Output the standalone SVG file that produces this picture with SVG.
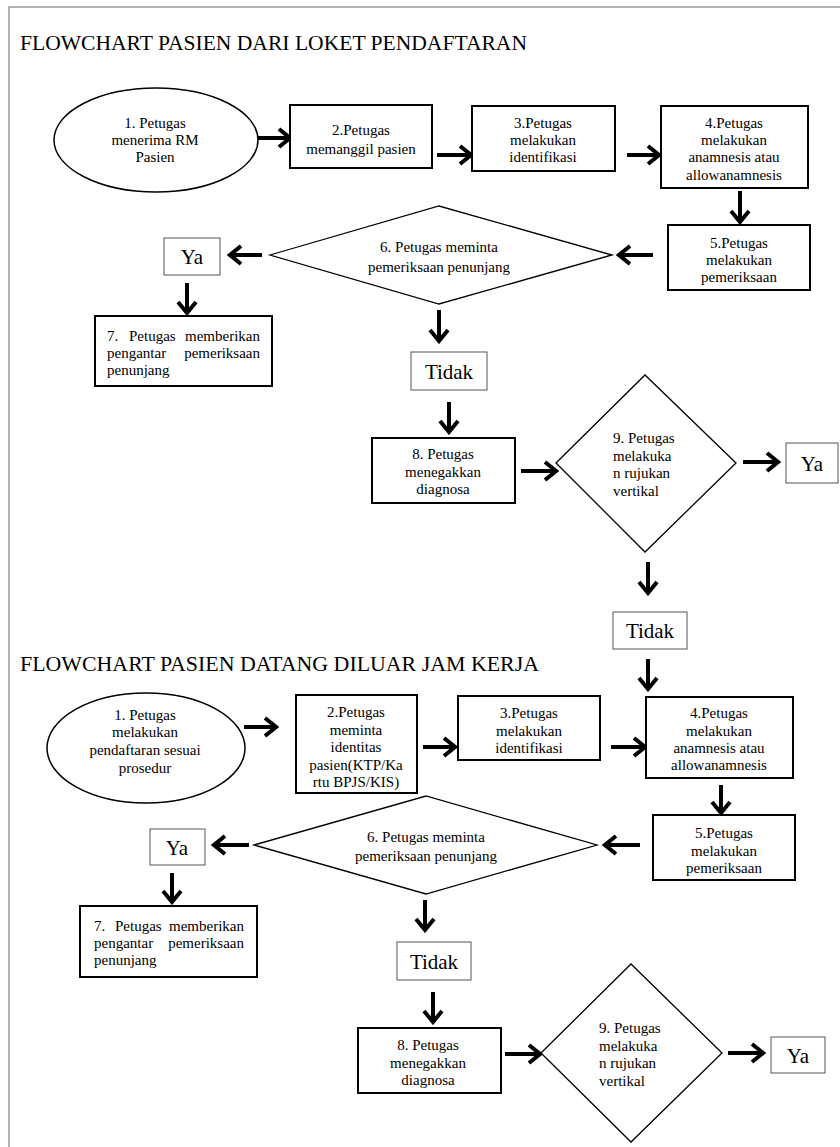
<svg xmlns="http://www.w3.org/2000/svg" width="840" height="1147" viewBox="0 0 840 1147" font-family="'Liberation Serif', 'Times New Roman', Tinos, 'DejaVu Serif', serif">
<style>
text{font-family:'Liberation Serif','Times New Roman',Tinos,'DejaVu Serif',serif;fill:#000}
.t{font-size:15px;text-anchor:middle}
.l{font-size:15px}
.r{font-size:15px;text-anchor:end}
.big{font-size:21px;text-anchor:middle}
.title{font-size:21px}
.proc{fill:#fff;stroke:#000;stroke-width:2}
.term{fill:#fff;stroke:#000;stroke-width:1.5}
.dec{fill:#fff;stroke:#000;stroke-width:1.3}
.lab{fill:#fff;stroke:#555;stroke-width:1}
.arr{stroke:#000;stroke-width:4;fill:none;marker-end:url(#ah)}
</style>
<defs>
<marker id="ah" markerUnits="userSpaceOnUse" viewBox="0 0 16 22" markerWidth="16" markerHeight="22" refX="13" refY="11" orient="auto">
<path d="M2 2 L13 11 L2 20" fill="none" stroke="#000" stroke-width="4"/>
</marker>
</defs>
<rect width="840" height="1147" fill="#fff"/>
<path d="M9 1147 V7 H840" fill="none" stroke="#999" stroke-width="1.5"/>

<text class="title" x="20" y="50" textLength="507" lengthAdjust="spacingAndGlyphs">FLOWCHART PASIEN DARI LOKET PENDAFTARAN</text>

<g id="connectors">
<line class="arr" x1="258" y1="138" x2="290" y2="138"/>
<line class="arr" x1="437" y1="155" x2="471" y2="155"/>
<line class="arr" x1="627" y1="155" x2="659" y2="155"/>
<line class="arr" x1="740" y1="191" x2="740" y2="222"/>
<line class="arr" x1="653" y1="255" x2="619" y2="255"/>
<line class="arr" x1="262" y1="255" x2="230" y2="255"/>
<line class="arr" x1="187" y1="283" x2="187" y2="313"/>
<line class="arr" x1="439" y1="310" x2="439" y2="341"/>
<line class="arr" x1="449" y1="402" x2="449" y2="432"/>
<line class="arr" x1="521" y1="471" x2="556" y2="471"/>
<line class="arr" x1="743" y1="462" x2="778" y2="462"/>
<line class="arr" x1="648" y1="562" x2="648" y2="593"/>
<line class="arr" x1="648" y1="659" x2="648" y2="689"/>
<line class="arr" x1="244" y1="727" x2="276" y2="727"/>
<line class="arr" x1="423" y1="747" x2="455" y2="747"/>
<line class="arr" x1="611" y1="747" x2="645" y2="747"/>
<line class="arr" x1="721" y1="785" x2="721" y2="813"/>
<line class="arr" x1="640" y1="845" x2="605" y2="845"/>
<line class="arr" x1="249" y1="845" x2="214" y2="845"/>
<line class="arr" x1="172" y1="873" x2="172" y2="902"/>
<line class="arr" x1="425" y1="900" x2="425" y2="930"/>
<line class="arr" x1="433" y1="992" x2="433" y2="1022"/>
<line class="arr" x1="505" y1="1054" x2="540" y2="1054"/>
<line class="arr" x1="728" y1="1053" x2="763" y2="1053"/>
</g>

<g id="n1">
<ellipse class="term" cx="156" cy="140" rx="102" ry="52"/>
<text class="t" x="155" y="128">1. Petugas</text>
<text class="t" x="155" y="145">menerima RM</text>
<text class="t" x="155" y="162">Pasien</text>
</g>
<g id="n2">
<rect class="proc" x="290" y="105" width="142" height="63"/>
<text class="t" x="361" y="135">2.Petugas</text>
<text class="t" x="361" y="154">memanggil pasien</text>
</g>
<g id="n3">
<rect class="proc" x="472" y="106" width="143" height="65"/>
<text class="t" x="543" y="128">3.Petugas</text>
<text class="t" x="543" y="145">melakukan</text>
<text class="t" x="543" y="162">identifikasi</text>
</g>
<g id="n4">
<rect class="proc" x="661" y="106" width="147" height="82"/>
<text class="t" x="734" y="128">4.Petugas</text>
<text class="t" x="734" y="145">melakukan</text>
<text class="t" x="734" y="162">anamnesis atau</text>
<text class="t" x="734" y="180">allowanamnesis</text>
</g>
<g id="n5">
<rect class="proc" x="668" y="225" width="142" height="65"/>
<text class="t" x="739" y="248">5.Petugas</text>
<text class="t" x="739" y="265">melakukan</text>
<text class="t" x="739" y="282">pemeriksaan</text>
</g>
<g id="n6">
<polygon class="dec" points="270,255 439,206 612,255 439,304"/>
<text class="t" x="439" y="252">6. Petugas meminta</text>
<text class="t" x="439" y="272">pemeriksaan penunjang</text>
</g>
<g id="ya1">
<rect class="lab" x="164" y="238" width="56" height="37"/>
<text class="big" x="192" y="264">Ya</text>
</g>
<g id="n7">
<rect class="proc" x="95" y="316" width="177" height="70"/>
<text class="l" x="107" y="341">7.</text>
<text class="l" x="129" y="341">Petugas</text>
<text class="r" x="260" y="341">memberikan</text>
<text class="l" x="107" y="358">pengantar</text>
<text class="r" x="260" y="358">pemeriksaan</text>
<text class="l" x="107" y="375">penunjang</text>
</g>
<g id="tidak1">
<rect class="lab" x="411" y="352" width="76" height="38"/>
<text class="big" x="449" y="379">Tidak</text>
</g>
<g id="n8">
<rect class="proc" x="372" y="438" width="143" height="65"/>
<text class="t" x="443" y="459">8. Petugas</text>
<text class="t" x="443" y="477">menegakkan</text>
<text class="t" x="443" y="494">diagnosa</text>
</g>
<g id="n9">
<polygon class="dec" points="556,463 645,375 736,463 645,552"/>
<text class="l" x="613" y="443">9. Petugas</text>
<text class="l" x="613" y="461">melakuka</text>
<text class="l" x="613" y="478">n rujukan</text>
<text class="l" x="613" y="496">vertikal</text>
</g>
<g id="ya2">
<rect class="lab" x="786" y="443" width="52" height="40"/>
<text class="big" x="812" y="471">Ya</text>
</g>
<g id="tidak2">
<rect class="lab" x="613" y="612" width="74" height="37"/>
<text class="big" x="650" y="638">Tidak</text>
</g>

<text class="title" x="20" y="671" textLength="519" lengthAdjust="spacingAndGlyphs">FLOWCHART PASIEN DATANG DILUAR JAM KERJA</text>

<g id="m1">
<ellipse class="term" cx="146" cy="748" rx="99" ry="55"/>
<text class="t" x="145" y="720">1. Petugas</text>
<text class="t" x="145" y="737">melakukan</text>
<text class="t" x="145" y="755">pendaftaran sesuai</text>
<text class="t" x="145" y="773">prosedur</text>
</g>
<g id="m2">
<rect class="proc" x="296" y="695" width="121" height="98"/>
<text class="t" x="356" y="717">2.Petugas</text>
<text class="t" x="356" y="735">meminta</text>
<text class="t" x="356" y="752">identitas</text>
<text class="t" x="356" y="770">pasien(KTP/Ka</text>
<text class="t" x="356" y="787">rtu BPJS/KIS)</text>
</g>
<g id="m3">
<rect class="proc" x="458" y="696" width="142" height="64"/>
<text class="t" x="529" y="718">3.Petugas</text>
<text class="t" x="529" y="736">melakukan</text>
<text class="t" x="529" y="753">identifikasi</text>
</g>
<g id="m4">
<rect class="proc" x="646" y="697" width="147" height="81"/>
<text class="t" x="719" y="718">4.Petugas</text>
<text class="t" x="719" y="736">melakukan</text>
<text class="t" x="719" y="753">anamnesis atau</text>
<text class="t" x="719" y="770">allowanamnesis</text>
</g>
<g id="m5">
<rect class="proc" x="653" y="815" width="142" height="65"/>
<text class="t" x="724" y="838">5.Petugas</text>
<text class="t" x="724" y="856">melakukan</text>
<text class="t" x="724" y="873">pemeriksaan</text>
</g>
<g id="m6">
<polygon class="dec" points="254,845 426,796 597,845 426,894"/>
<text class="t" x="426" y="842">6. Petugas meminta</text>
<text class="t" x="426" y="861">pemeriksaan penunjang</text>
</g>
<g id="ya3">
<rect class="lab" x="150" y="829" width="55" height="36"/>
<text class="big" x="177" y="855">Ya</text>
</g>
<g id="m7">
<rect class="proc" x="80" y="906" width="177" height="71"/>
<text class="l" x="94" y="931">7.</text>
<text class="l" x="115" y="931">Petugas</text>
<text class="r" x="244" y="931">memberikan</text>
<text class="l" x="94" y="948">pengantar</text>
<text class="r" x="244" y="948">pemeriksaan</text>
<text class="l" x="94" y="965">penunjang</text>
</g>
<g id="tidak3">
<rect class="lab" x="397" y="942" width="74" height="38"/>
<text class="big" x="434" y="969">Tidak</text>
</g>
<g id="m8">
<rect class="proc" x="358" y="1028" width="143" height="65"/>
<text class="t" x="428" y="1050">8. Petugas</text>
<text class="t" x="428" y="1068">menegakkan</text>
<text class="t" x="428" y="1085">diagnosa</text>
</g>
<g id="m9">
<polygon class="dec" points="541,1053 631,964 722,1053 631,1142"/>
<text class="l" x="599" y="1033">9. Petugas</text>
<text class="l" x="599" y="1051">melakuka</text>
<text class="l" x="599" y="1068">n rujukan</text>
<text class="l" x="599" y="1086">vertikal</text>
</g>
<g id="ya4">
<rect class="lab" x="771" y="1037" width="54" height="36"/>
<text class="big" x="798" y="1063">Ya</text>
</g>
</svg>
